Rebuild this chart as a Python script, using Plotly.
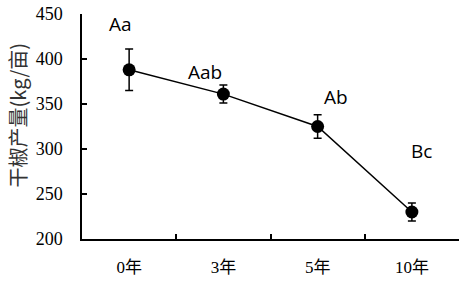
import plotly.graph_objects as go

categories = ["0年", "3年", "5年", "10年"]
yield_values = [388, 361, 325, 230]
yield_errors = [23, 10, 13, 10]
letters = ["Aa", "Aab", "Ab", "Bc"]
letter_y = [439, 386, 358, 298]
letter_xshift = [-9, -18, 18, 10]
y_title = "干椒产量(kg/亩)"

fig = go.Figure()
fig.add_trace(go.Scatter(
    x=categories, y=yield_values,
    mode="lines+markers",
    line=dict(color="black", width=1.5),
    marker=dict(color="black", size=13),
    error_y=dict(type="data", array=yield_errors, color="black", thickness=1.5, width=4),
    showlegend=False,
))

for c, t, ly, xs in zip(categories, letters, letter_y, letter_xshift):
    fig.add_annotation(x=c, y=ly, text=t, showarrow=False, xshift=xs,
                       font=dict(family="Open Sans, Noto Sans", size=19, color="black"))

fig.add_annotation(xref="paper", yref="paper", x=-0.172, y=0.55, text=y_title,
                   textangle=-90, showarrow=False, xanchor="center", yanchor="middle",
                   font=dict(family="Noto Sans CJK SC", size=20, color="#333"))

serif = "Liberation Serif, Noto Sans CJK SC"
fig.update_layout(
    width=468, height=283,
    margin=dict(l=82, r=9, t=14, b=44),
    paper_bgcolor="white", plot_bgcolor="white",
    xaxis=dict(type="category", range=[-0.5, 3.5], tickson="boundaries",
               automargin=False,
               showline=True, linecolor="black", linewidth=1.5,
               ticks="inside", ticklen=5, tickcolor="black", tickwidth=1.5,
               showgrid=False, zeroline=False,
               tickfont=dict(family=serif, size=17, color="black"),
               ticklabelstandoff=12),
    yaxis=dict(range=[200, 450], dtick=50, automargin=False,
               showline=True, linecolor="black", linewidth=1.5,
               ticks="inside", ticklen=5, tickcolor="black", tickwidth=1.5,
               showgrid=False, zeroline=False,
               tickfont=dict(family=serif, size=18, color="black"),
               ticklabelstandoff=14),
)

fig.write_html("out.html", config={"displayModeBar": False},
               post_script="document.body.style.margin='0';document.body.style.overflow='hidden';")
